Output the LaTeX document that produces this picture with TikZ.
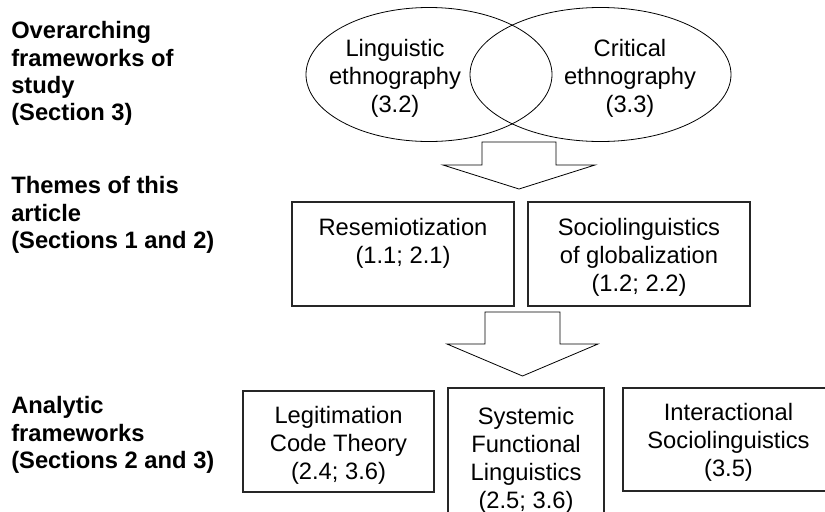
\documentclass[tikz,border=0pt]{standalone}
\usepackage{fontspec}
\setmainfont{Liberation Sans}
\usetikzlibrary{shapes.geometric}

\tikzset{
  frame/.style={draw=black!85, line width=0.9pt, inner sep=0pt, outer sep=0pt},
  oval/.style={draw, ellipse, line width=0.6pt, inner sep=0pt},
  txt/.style={align=center, inner sep=0pt, font=\fontsize{17.8}{21}\selectfont},
  level/.style={align=left, anchor=west, inner sep=0pt, font=\fontsize{17.8}{20.4}\selectfont\bfseries},
  blockarrow/.style={draw, line width=0.6pt, line join=miter}
}

\begin{document}
\begin{tikzpicture}[x=0.75pt, y=-0.75pt]

        % Page frame
        \useasboundingbox (0,0) rectangle (825,511);
        \clip (0,0) rectangle (825,511);

        % Level labels
        \node[level] (lvlfw) at (11,73.5) {Overarching\\frameworks of\\study\\(Section 3)};
        \node[level] (lvlthemes) at (11,215) {Themes of this\\article\\(Sections 1 and 2)};
        \node[level] (lvlanalytic) at (11,435) {Analytic\\frameworks\\(Sections 2 and 3)};

        % Overarching frameworks
        \node[oval, minimum width=184.5pt, minimum height=100.5pt] (lingeth) at (429,74.5) {};
        \node[oval, minimum width=195.75pt, minimum height=100.5pt] (criteth) at (600.5,74.5) {};
        \node[txt] (lingtxt) at (395,78.5) {Linguistic\\ethnography\\(3.2)};
        \node[txt] (crittxt) at (630,78.5) {Critical\\ethnography\\(3.3)};

        % Arrow to themes
        \coordinate (arrA) at (519,142);
        \coordinate (tipA) at (519,189);
        \draw[blockarrow] (arrA) ++(-37,0) -- ++(0,23) -- ++(-39,0) -- (tipA)
            -- ++(76,-24) -- ++(-39,0) -- ++(0,-23) -- cycle;

        % Themes
        \node[frame, minimum width=166.5pt, minimum height=78pt] (reso) at (403,254) {};
        \node[txt] (resotxt) at (403,243) {Resemiotization\\(1.1; 2.1)};
        \node[frame, minimum width=166.5pt, minimum height=78pt] (glob) at (639,254) {};
        \node[txt] (globtxt) at (639,257.5) {Sociolinguistics\\of globalization\\(1.2; 2.2)};

        % Arrow to analytic frameworks
        \coordinate (arrB) at (522.5,312);
        \coordinate (tipB) at (522.5,376);
        \draw[blockarrow] (arrB) ++(-37.5,0) -- ++(0,32) -- ++(-38,0) -- (tipB)
            -- ++(75.5,-32) -- ++(-38,0) -- ++(0,-32) -- cycle;

        % Analytic frameworks
        \node[frame, minimum width=143.25pt, minimum height=75.75pt] (lct) at (338.5,441.5) {};
        \node[txt] (lcttxt) at (338.5,445.5) {Legitimation\\Code Theory\\(2.4; 3.6)};
        \node[frame, minimum width=117pt, minimum height=108pt] (sfl) at (526,460) {};
        \node[txt] (sfltxt) at (526,460) {Systemic\\Functional\\Linguistics\\(2.5; 3.6)};
        \node[frame, minimum width=158.25pt, minimum height=77.25pt] (isoc) at (728.5,439.5) {};
        \node[txt] (isoctxt) at (728.5,442.5) {Interactional\\Sociolinguistics\\(3.5)};

\end{tikzpicture}
\end{document}
